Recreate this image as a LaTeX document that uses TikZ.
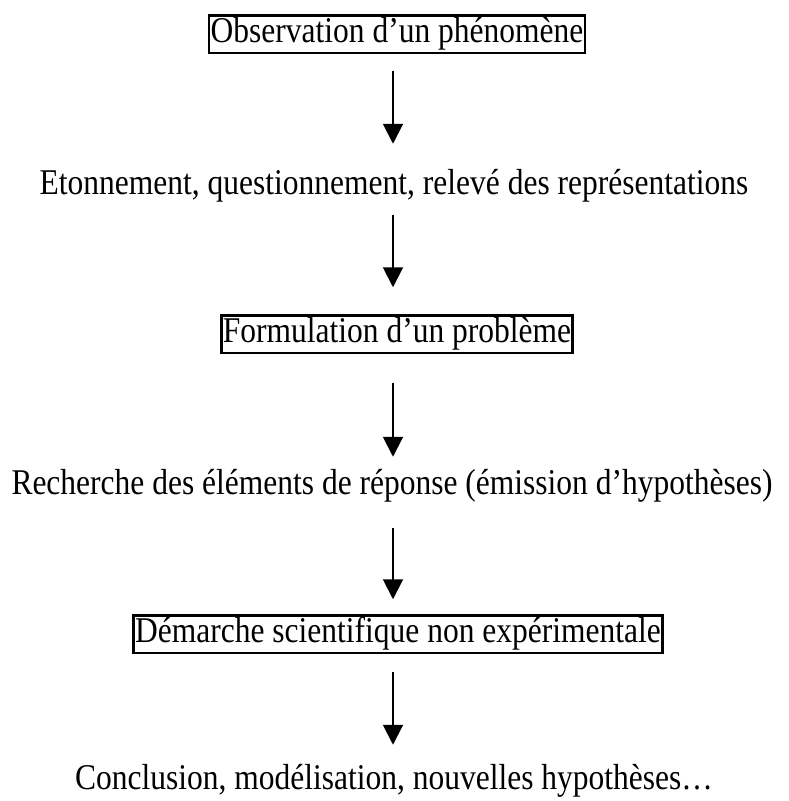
\documentclass[tikz,border=0pt]{standalone}
\usepackage{fontspec}
\setmainfont{Liberation Serif}
\usetikzlibrary{arrows.meta}

% the glyphs of the reference are drawn a bit taller than wide
\newcommand{\stretchtxt}[1]{\scalebox{1}[1.15]{#1}}

\begin{document}
\begin{tikzpicture}[x=1pt,y=-1pt,
  step text/.style={font=\fontsize{31.5pt}{36pt}\selectfont, text height=26pt, text depth=8.5pt,
    inner xsep=1.5pt, inner ysep=1.5pt, outer sep=0pt},
  step box/.style={step text, draw, line width=2.5pt},
  flow arrow/.style={line width=2pt, -{Triangle[length=20pt,width=20pt]}}]
\useasboundingbox (0,0) rectangle (788,801);

% Text Node
\node [step box] (obs) at (397,34) {\stretchtxt{Observation d’un phénomène}};
% Text Node
\node [step text] (eton) at (394,186) {\stretchtxt{Etonnement, questionnement, relevé des représentations}};
% Text Node
\node [step box] (form) at (397,334) {\stretchtxt{Formulation d’un problème}};
% Text Node
\node [step text] (rech) at (392,486) {\stretchtxt{Recherche des éléments de réponse (émission d’hypothèses)}};
% Text Node
\node [step box] (dem) at (398,634) {\stretchtxt{Démarche scientifique non expérimentale}};
% Text Node
\node [step text] (concl) at (394,781) {\stretchtxt{Conclusion, modélisation, nouvelles hypothèses…}};

% Arrows
\draw [flow arrow, shorten <=18.5pt, shorten >=23.5pt] (obs.south -| 393,0) -- (eton.north -| 393,0);
\draw [flow arrow, shorten <=10.5pt, shorten >=28pt] (eton.south -| 393,0) -- (form.north -| 393,0);
\draw [flow arrow, shorten <=30pt, shorten >=10.5pt] (form.south -| 393,0) -- (rech.north -| 393,0);
\draw [flow arrow, shorten <=23.5pt, shorten >=16pt] (rech.south -| 393,0) -- (dem.north -| 393,0);
\draw [flow arrow, shorten <=19pt, shorten >=17.5pt] (dem.south -| 393,0) -- (concl.north -| 393,0);

\end{tikzpicture}
\end{document}
